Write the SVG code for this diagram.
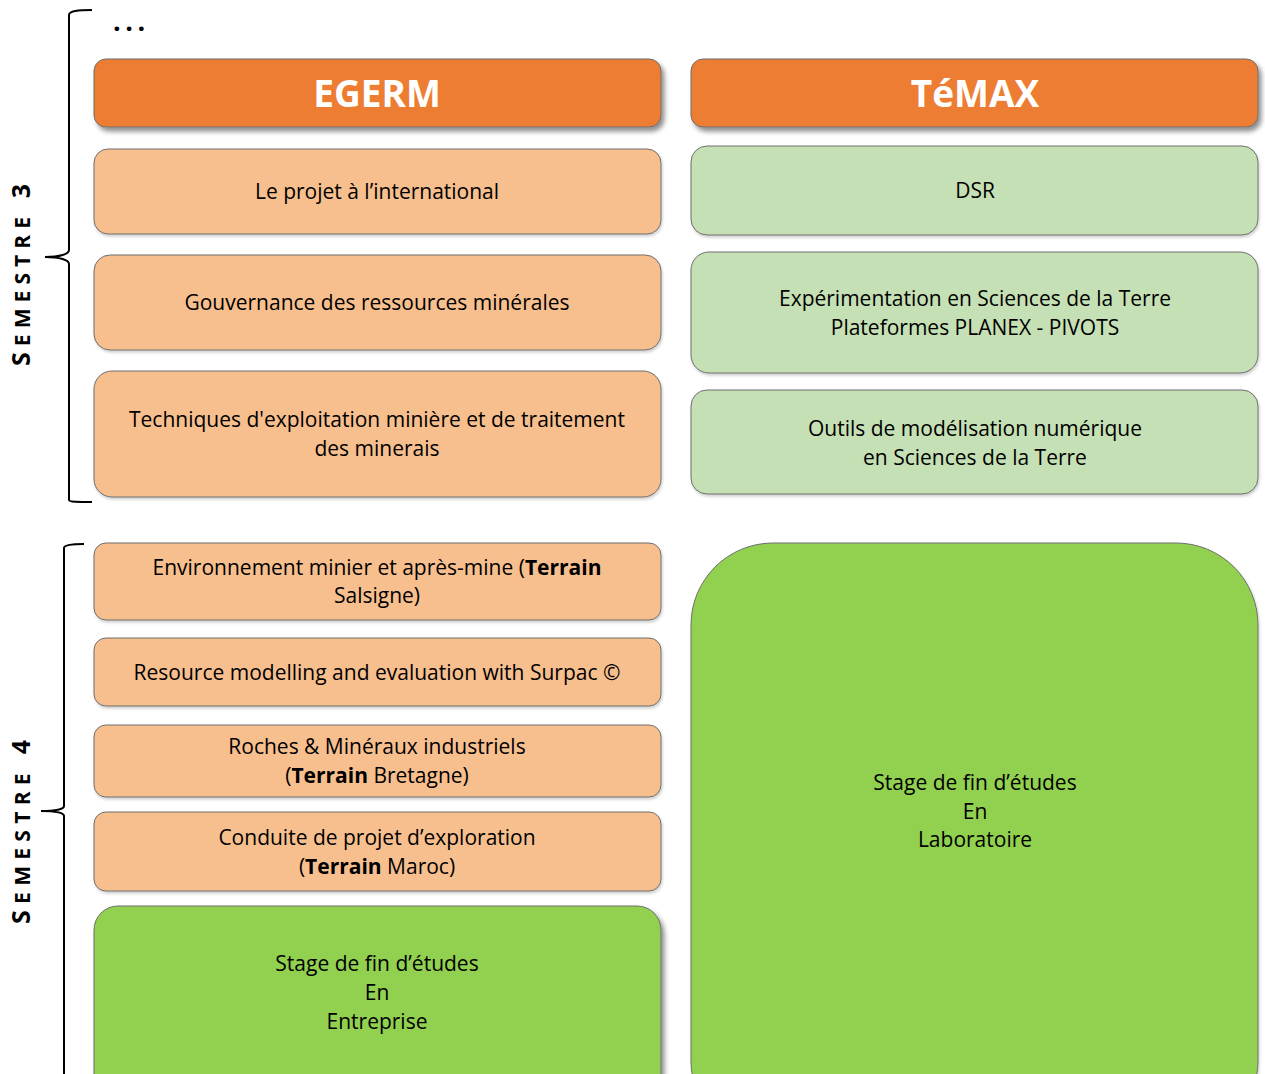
<svg xmlns="http://www.w3.org/2000/svg" width="1265" height="1074" viewBox="0 0 1265 1074">
<style>
.hdr{fill:#ED7D31;stroke:#6E6E6E;stroke-width:1}
.lo{fill:#F8BF8E;stroke:#6E6E6E;stroke-width:1}
.lg{fill:#C5E0B4;stroke:#6E6E6E;stroke-width:1}
.gr{fill:#92D050;stroke:#6E6E6E;stroke-width:1}
.t{font-family:"Open Sans",Lato,"Liberation Sans",sans-serif;font-size:21px;fill:#000;text-anchor:middle;font-variant-ligatures:none}
.ht{font-family:"Open Sans",Lato,"Liberation Sans",sans-serif;font-size:37px;font-weight:bold;fill:#fff;text-anchor:middle}
.b{font-weight:bold}
.br{fill:none;stroke:#000;stroke-width:2}
.sem{font-family:"Open Sans",Lato,"Liberation Sans",sans-serif;font-weight:bold;fill:#000}
</style>
<defs>
<filter id="sh" x="-10%" y="-10%" width="125%" height="140%">
<feGaussianBlur in="SourceAlpha" stdDeviation="2.5"/>
<feOffset dx="3" dy="4" result="o"/>
<feComponentTransfer><feFuncA type="linear" slope="0.45"/></feComponentTransfer>
<feMerge><feMergeNode/><feMergeNode in="SourceGraphic"/></feMerge>
</filter>
<filter id="sh2" x="-10%" y="-10%" width="125%" height="140%">
<feGaussianBlur in="SourceAlpha" stdDeviation="1.5"/>
<feOffset dx="1" dy="2" result="o"/>
<feComponentTransfer><feFuncA type="linear" slope="0.2"/></feComponentTransfer>
<feMerge><feMergeNode/><feMergeNode in="SourceGraphic"/></feMerge>
</filter>
</defs>

<g id="brackets">
<path class="br" d="M92,10 C78,10 69,11 69,15 L69,250 C69,254 60,257 45,257 C60,257 69,260 69,264 L69,500 C69,502 78,502 92,502"/>
<path class="br" d="M84,544 C72,544 64,545 64,548 L64,806 C64,809 56,811 41,811 C56,811 64,813 64,816 L64,1074"/>
</g>
<g id="labels">
<text class="sem" transform="translate(30,366) rotate(-90)" font-size="25" textLength="182" lengthAdjust="spacing">S<tspan font-size="21">EMESTRE</tspan> 3</text>
<text class="sem" transform="translate(30,924) rotate(-90)" font-size="25" textLength="184" lengthAdjust="spacing">S<tspan font-size="21">EMESTRE</tspan> 4</text>
<text class="sem" x="113" y="31" font-size="27" letter-spacing="4.5">...</text>
</g>

<g id="egerm">
<rect class="hdr" x="94" y="59" width="567" height="68" rx="12" filter="url(#sh)"/>
<text class="ht" x="377" y="107">EGERM</text>
</g>
<g id="temax">
<rect class="hdr" x="691" y="59" width="567" height="68" rx="12" filter="url(#sh)"/>
<text class="ht" x="975" y="107">TéMAX</text>
</g>

<g id="projet">
<rect class="lo" x="94" y="149" width="567" height="85" rx="14" filter="url(#sh2)"/>
<text class="t" x="377" y="199">Le projet à l’international</text>
</g>
<g id="dsr">
<rect class="lg" x="691" y="146" width="567" height="89" rx="16" filter="url(#sh2)"/>
<text class="t" x="975" y="198">DSR</text>
</g>
<g id="gouvernance">
<rect class="lo" x="94" y="255" width="567" height="95" rx="16" filter="url(#sh2)"/>
<text class="t" x="377" y="310">Gouvernance des ressources minérales</text>
</g>
<g id="experimentation">
<rect class="lg" x="691" y="252" width="567" height="121" rx="18" filter="url(#sh2)"/>
<text class="t" x="975" y="306">Expérimentation en Sciences de la Terre</text>
<text class="t" x="975" y="335">Plateformes PLANEX - PIVOTS</text>
</g>
<g id="techniques">
<rect class="lo" x="94" y="371" width="567" height="126" rx="18" filter="url(#sh2)"/>
<text class="t" x="377" y="427">Techniques d'exploitation minière et de traitement</text>
<text class="t" x="377" y="456">des minerais</text>
</g>
<g id="outils">
<rect class="lg" x="691" y="390" width="567" height="104" rx="16" filter="url(#sh2)"/>
<text class="t" x="975" y="436">Outils de modélisation numérique</text>
<text class="t" x="975" y="465">en Sciences de la Terre</text>
</g>

<g id="environnement">
<rect class="lo" x="94" y="543" width="567" height="77" rx="12" filter="url(#sh2)"/>
<text class="t" x="377" y="575">Environnement minier et après-mine (<tspan class="b">Terrain</tspan></text>
<text class="t" x="377" y="603">Salsigne)</text>
</g>
<g id="resource">
<rect class="lo" x="94" y="638" width="567" height="68" rx="12" filter="url(#sh2)"/>
<text class="t" x="377" y="680">Resource modelling and evaluation with Surpac ©</text>
</g>
<g id="roches">
<rect class="lo" x="94" y="725" width="567" height="72" rx="12" filter="url(#sh2)"/>
<text class="t" x="377" y="754">Roches &amp; Minéraux industriels</text>
<text class="t" x="377" y="783">(<tspan class="b">Terrain</tspan> Bretagne)</text>
</g>
<g id="conduite">
<rect class="lo" x="94" y="812" width="567" height="79" rx="12" filter="url(#sh2)"/>
<text class="t" x="377" y="845">Conduite de projet d’exploration</text>
<text class="t" x="377" y="874">(<tspan class="b">Terrain</tspan> Maroc)</text>
</g>
<g id="stage-entreprise">
<rect class="gr" x="94" y="906" width="567" height="200" rx="24" filter="url(#sh)"/>
<text class="t" x="377" y="971">Stage de fin d’études</text>
<text class="t" x="377" y="1000">En</text>
<text class="t" x="377" y="1029">Entreprise</text>
</g>
<g id="stage-laboratoire">
<rect class="gr" x="691" y="543" width="567" height="600" rx="82" filter="url(#sh2)"/>
<text class="t" x="975" y="790">Stage de fin d’études</text>
<text class="t" x="975" y="819">En</text>
<text class="t" x="975" y="847">Laboratoire</text>
</g>
</svg>
